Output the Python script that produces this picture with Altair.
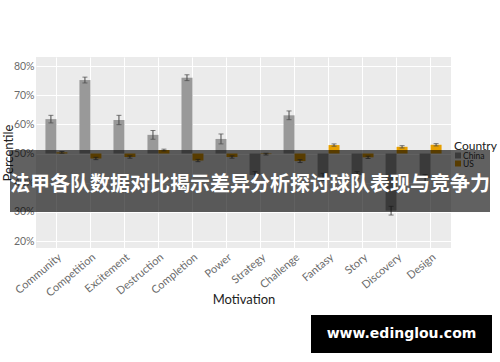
import altair as alt
import pandas as pd

motivations = ["Community", "Competition", "Excitement", "Destruction", "Completion", "Power",
               "Strategy", "Challenge", "Fantasy", "Story", "Discovery", "Design"]
countries = ["China", "US"]
china_vals = [61.8, 75.2, 61.5, 56.4, 76.0, 55.0, 42.6, 63.1, 42.0, 42.6, 30.4, 41.6]
china_err = [1.3, 1.0, 1.6, 1.5, 1.0, 1.7, 1.2, 1.5, 1.2, 1.2, 1.5, 1.2]
us_vals = [50.4, 48.3, 48.8, 51.2, 47.6, 48.8, 49.8, 47.4, 52.9, 48.7, 52.3, 53.0]
us_err = [0.3, 0.4, 0.4, 0.3, 0.4, 0.4, 0.3, 0.5, 0.4, 0.4, 0.4, 0.4]
y_ticks = [20, 30, 40, 50, 60, 70, 80]
baseline = 50
overlay_text = "法甲各队数据对比揭示差异分析探讨球队表现与竞争力"
site_text = "www.edinglou.com"

rows = []
for i, m in enumerate(motivations):
    rows.append({"Motivation": m, "Country": "China", "Value": china_vals[i],
                 "Lo": china_vals[i] - china_err[i], "Hi": china_vals[i] + china_err[i], "Base": baseline})
    rows.append({"Motivation": m, "Country": "US", "Value": us_vals[i],
                 "Lo": us_vals[i] - us_err[i], "Hi": us_vals[i] + us_err[i], "Base": baseline})
df = pd.DataFrame(rows)

FONT = "Lato"

x_axis = alt.Axis(title="Motivation", labelAngle=-40, labelAlign="right", labelBaseline="top",
                  labelPadding=3, labelFontSize=11, bandPosition=0.5, grid=True,
                  labelOverlap=False, titleFontSize=13, titleY=51, titleBaseline="middle")
x_scale = alt.Scale(paddingInner=0.354, paddingOuter=0.277)
x = alt.X("Motivation:N", sort=motivations, scale=x_scale, axis=x_axis)
xo = alt.XOffset("Country:N", sort=countries,
                 scale=alt.Scale(domain=countries, paddingInner=0, paddingOuter=0))
y_scale = alt.Scale(domain=[17.6, 83.1], nice=False, zero=False)
y_axis = alt.Axis(title="Percentile", values=y_ticks, labelExpr="datum.value + '%'",
                  labelPadding=2, labelFontSize=10.5, grid=True, labelOverlap=False,
                  titleFontSize=13, titleX=-28, titleY=95.5, titleBaseline="middle")
y = alt.Y("Value:Q", scale=y_scale, axis=y_axis, title="Percentile")
y_lo = alt.Y("Lo:Q", scale=y_scale, axis=y_axis, title="Percentile")
y_hi = alt.Y("Hi:Q", scale=y_scale, axis=y_axis, title="Percentile")
color = alt.Color("Country:N", scale=alt.Scale(domain=countries, range=["#999999", "#E69F00"]),
                  legend=None)

base = alt.Chart(df)
bars = base.mark_bar().encode(x=x, xOffset=xo, y=y, y2=alt.Y2("Base:Q"), color=color)
err = base.mark_rule(color="#4a4a4a", strokeWidth=1).encode(x=x, xOffset=xo, y=y_lo, y2="Hi:Q")
cap_lo = base.mark_tick(color="#4a4a4a", thickness=1, size=5).encode(x=x, xOffset=xo, y=y_lo)
cap_hi = base.mark_tick(color="#4a4a4a", thickness=1, size=5).encode(x=x, xOffset=xo, y=y_hi)

one = pd.DataFrame({"k": [0]})
leg_title = alt.Chart(one).mark_text(text="Country", font=FONT, fontSize=12, align="left",
                                     baseline="middle", color="#222").encode(
    x=alt.value(418), y=alt.value(89))
leg_china = alt.Chart(one).mark_square(size=36, opacity=1).encode(
    x=alt.value(422), y=alt.value(98.5), color=alt.datum("China"))
leg_us = alt.Chart(one).mark_square(size=36, opacity=1).encode(
    x=alt.value(422), y=alt.value(106.5), color=alt.datum("US"))
leg_china_t = alt.Chart(one).mark_text(text="China", font=FONT, fontSize=8.5, align="left",
                                       baseline="middle", color="#333").encode(
    x=alt.value(427), y=alt.value(98.5))
leg_us_t = alt.Chart(one).mark_text(text="US", font=FONT, fontSize=8.5, align="left",
                                    baseline="middle", color="#333").encode(
    x=alt.value(427), y=alt.value(106.5))

band = alt.Chart(one).mark_rect(color="black", opacity=0.62).encode(
    x=alt.value(-26), x2=alt.value(454), y=alt.value(93), y2=alt.value(155))
band_text = alt.Chart(one).mark_text(text=overlay_text, font="Noto Sans CJK SC", fontSize=20,
                                     fontWeight="bold", color="white", align="center",
                                     baseline="middle").encode(x=alt.value(214), y=alt.value(128))
site_box = alt.Chart(one).mark_rect(color="black").encode(
    x=alt.value(275), x2=alt.value(456), y=alt.value(258), y2=alt.value(296))
site = alt.Chart(one).mark_text(text=site_text, font="DejaVu Sans", fontSize=14, fontWeight="bold",
                                color="white", align="center", baseline="middle").encode(
    x=alt.value(365.5), y=alt.value(277))

chart = alt.layer(bars, err, cap_lo, cap_hi, leg_title, leg_china, leg_us, leg_china_t, leg_us_t,
                  band, band_text, site_box, site).properties(
    width=415, height=191,
    padding={"left": 36, "top": 57, "right": 49, "bottom": 114},
    autosize=alt.AutoSizeParams(type="none"),
    background="white",
).configure_view(fill="#EBEBEB", strokeWidth=0).configure_axis(
    gridColor="white", gridWidth=1, domain=False, ticks=False,
    labelColor="#6b6b6b", labelFont=FONT, titleFont=FONT, titleColor="#222",
    titleFontWeight="normal",
)

chart.save("out.html", embed_options={"renderer": "svg", "actions": False})
